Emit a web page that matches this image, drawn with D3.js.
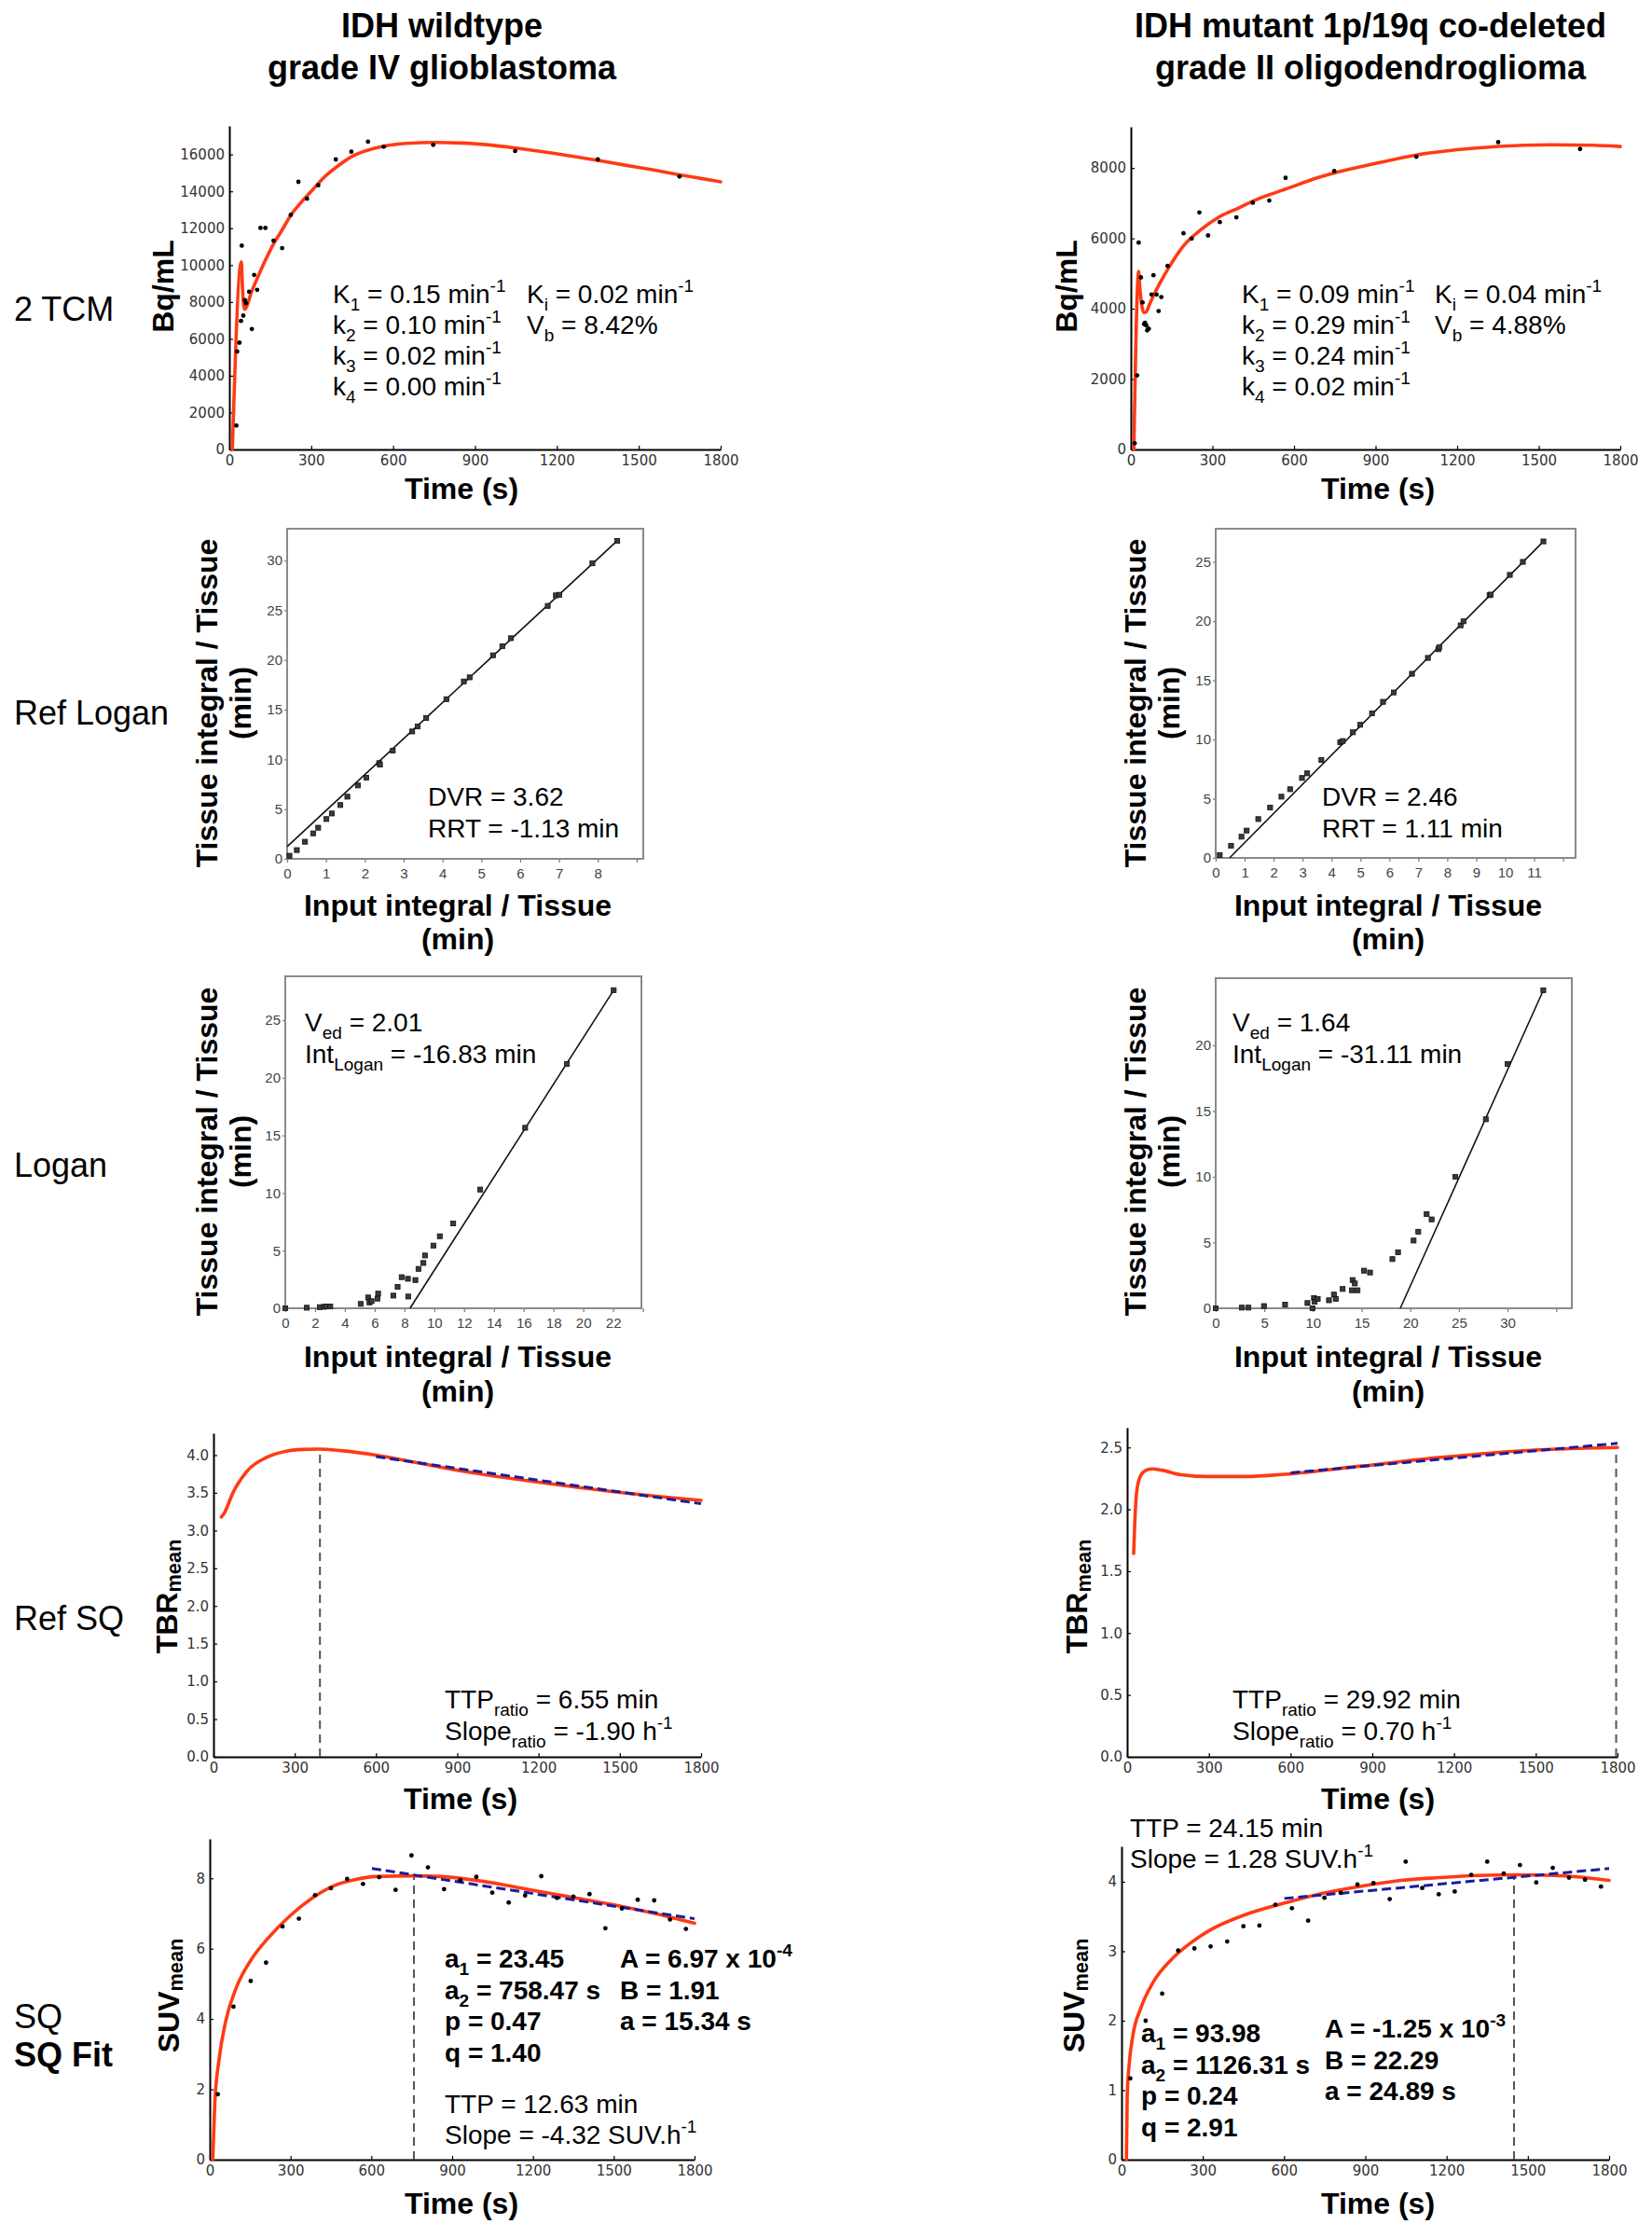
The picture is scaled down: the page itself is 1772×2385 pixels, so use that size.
<!DOCTYPE html>
<html>
<head>
<meta charset="utf-8">
<script src="https://cdn.jsdelivr.net/npm/d3@7"></script>
<style>
  body { margin: 0; background: #fff; }
  svg text { font-family: "Liberation Sans", Arial, sans-serif; }
  .ax text { font-family: "DejaVu Sans", sans-serif; font-size: 15px; fill: #333; }
  .bx text { font-family: "Liberation Sans", Arial, sans-serif; font-size: 15px; fill: #444; }
</style>
</head>
<body>
<div id="fig"></div>
<script>
// ---- data ----
const timeTicks = [0, 300, 600, 900, 1200, 1500, 1800];

// 2TCM, wildtype: measured points [t (s), Bq/mL] and fitted curve
const tcmWtPoints = [[25.6,1300],[28.5,5316],[37,5790],[42.7,6970],[45.5,11055],[51,7257],[57,8100],[61,7932],
  [72.6,8557],[82.5,6532],[91,9468],[102,8658],[114,12017],[132,12017],[162,11325],[193.5,10920],[225,12726],
  [253,14515],[284.6,13603],[325.8,14329],[390,15730],[447,16152],[508,16692],[566,16422],[747,16523],
  [1047,16186],[1350,15730],[1649,14802]];
const tcmWtFit = [[11,0],[44,10180],[48,8800],[52,7900],[56,7600],[62,7700],[80,8500],[100,9200],[130,10200],
  [160,11100],[193,11900],[225,12700],[260,13350],[300,14000],[350,14800],[400,15400],[450,15900],[500,16200],
  [566,16450],[650,16600],[750,16650],[850,16620],[950,16520],[1050,16350],[1150,16150],[1250,15920],
  [1350,15680],[1450,15420],[1550,15170],[1650,14900],[1800,14520]];
const tcmWtYTicks = [0,2000,4000,6000,8000,10000,12000,14000,16000];

// 2TCM, mutant
const tcmMutPoints = [[14,177],[23,2104],[28.7,5880],[37,4890],[43,4180],[48.7,3563],[52,3600],[57,3519],[60,3386],
  [66,3430],[76,4403],[83,4951],[94.6,4403],[102,3935],[112,4332],[135,5217],[193.5,6145],[223.6,5995],[252,6737],
  [284,6083],[327,6463],[388,6596],[448.6,7011],[509,7073],[569,7719],[748,7914],[1050,8321],[1351,8736],[1652,8541]];
const tcmMutFit = [[11,0],[28.7,5060],[33,4600],[40,4100],[47,3890],[55,3900],[70,4150],[90,4480],[112,4800],
  [135,5110],[160,5420],[193,5780],[255,6230],[327,6620],[398,6870],[449,7060],[509,7240],[569,7400],[685,7720],
  [748,7860],[900,8130],[1050,8370],[1258,8560],[1351,8615],[1545,8660],[1700,8645],[1800,8610]];
const tcmMutYTicks = [0,2000,4000,6000,8000];

// Reference Logan plots [input integral / tissue, tissue integral / tissue]
const refLoganWtPoints = [[0.06,0.31],[0.25,0.88],[0.46,1.72],[0.67,2.56],[0.80,3.13],[1.01,4.0],[1.15,4.56],
  [1.37,5.41],[1.55,6.25],[1.82,7.38],[2.04,8.16],[2.37,9.63],[2.39,9.47],[2.72,10.88],[3.22,12.81],[3.36,13.31],
  [3.58,14.16],[4.1,16.06],[4.55,17.84],[4.7,18.25],[5.3,20.47],[5.54,21.38],[5.76,22.19],[6.71,25.44],
  [6.92,26.5],[7.01,26.56],[7.86,29.72],[8.5,31.97]];
const refLoganWtFit = [[0,1.23],[8.5,32.0]];
const refLoganWtXTicks = [0,1,2,3,4,5,6,7,8,9];
const refLoganWtYTicks = [0,5,10,15,20,25,30];

const refLoganMutPoints = [[0.14,0.24],[0.53,1.02],[0.89,1.79],[1.07,2.31],[1.47,3.28],[1.88,4.25],[2.27,5.17],
  [2.57,5.8],[2.98,6.75],[3.16,7.14],[3.65,8.27],[4.3,9.77],[4.39,9.87],[4.74,10.61],[4.99,11.24],[5.4,12.21],
  [5.78,13.18],[6.15,13.97],[6.78,15.55],[7.33,16.89],[7.69,17.62],[7.72,17.78],[8.46,19.64],[8.56,19.98],
  [9.46,22.19],[9.5,22.24],[10.16,23.9],[10.61,25.0],[11.32,26.73]];
const refLoganMutFit = [[0.48,0],[11.32,26.73]];
const refLoganMutXTicks = [0,1,2,3,4,5,6,7,8,9,10,11,12];
const refLoganMutYTicks = [0,5,10,15,20,25];

// Logan plots
const loganWtPoints = [[0,0],[1.44,0.05],[2.31,0.1],[2.6,0.13],[2.77,0.16],[3.02,0.16],[5.06,0.38],[5.56,0.94],
  [5.65,0.51],[5.79,0.62],[6.19,0.84],[6.23,1.27],[7.25,1.1],[7.54,1.86],[7.81,2.7],[8.23,2.56],[8.25,1.02],
  [8.73,2.45],[8.94,3.42],[9.27,3.93],[9.375,4.58],[9.94,5.44],[10.37,6.25],[11.27,7.36],[13.08,10.3],
  [16.1,15.66],[18.9,21.2],[22.04,27.6]];
const loganWtFit = [[8.37,0],[22.04,27.6]];
const loganWtXTicks = [0,2,4,6,8,10,12,14,16,18,20,22,24];
const loganWtYTicks = [0,5,10,15,20,25];

const loganMutPoints = [[0,0],[2.69,0.05],[3.36,0.05],[4.96,0.17],[7.13,0.28],[9.43,0.4],[9.95,0],[10.1,0.78],
  [10.17,0.5],[10.49,0.71],[11.64,0.61],[12.15,1.04],[12.34,0.71],[13.05,1.47],[14.0,1.37],[14.07,2.15],
  [14.3,1.89],[14.58,1.37],[15.25,2.86],[15.86,2.72],[18.16,3.74],[18.74,4.26],[20.34,5.15],[20.82,5.82],
  [21.68,7.16],[22.19,6.76],[24.62,10.0],[27.76,14.37],[30.0,18.58],[33.67,24.18]];
const loganMutFit = [[18.97,0],[33.67,24.18]];
const loganMutXTicks = [0,5,10,15,20,25,30,35];
const loganMutYTicks = [0,5,10,15,20];

// Reference SQ: TBR curves, late slope fit and time-to-peak marker
const refSqWtCurve = [[29,3.18],[38,3.22],[73,3.51],[127,3.8],[196,3.97],[265,4.05],[330,4.075],[388,4.08],
  [470,4.06],[600,4.0],[750,3.9],[900,3.8],[1050,3.715],[1200,3.64],[1350,3.57],[1500,3.505],[1650,3.45],[1800,3.40]];
const refSqWtSlope = [[600,3.98],[1800,3.355]];
const refSqWtTtp = [[393,0],[393,4.08]];
const refSqWtYTicks = [0,0.5,1,1.5,2,2.5,3,3.5,4];

const refSqMutCurve = [[24,1.644],[28,1.886],[35,2.14],[49,2.27],[70,2.316],[92,2.326],[127,2.316],[197,2.28],
  [296,2.265],[437,2.265],[578,2.283],[860,2.35],[1143,2.418],[1425,2.47],[1800,2.5]];
const refSqMutSlope = [[600,2.295],[1800,2.533]];
const refSqMutTtp = [[1795,0],[1795,2.5]];
const refSqMutYTicks = [0,0.5,1,1.5,2,2.5];

// SQ fit: SUV points, fitted curve, late slope and time-to-peak
const sqWtPoints = [[30,1.86],[88,4.35],[152,5.08],[209,5.6],[270,6.63],[331,6.85],[391,7.52],[450,7.72],
  [510,7.98],[569,7.84],[629,8.03],[690,7.67],[749,8.65],[810,8.31],[870,7.69],[930,7.95],[990,8.04],
  [1049,7.59],[1110,7.31],[1171,7.51],[1231,8.06],[1289,7.44],[1350,7.48],[1410,7.55],[1469,6.58],
  [1530,7.14],[1589,7.39],[1650,7.37],[1709,6.83],[1768,6.56]];
const sqWtCurve = [[11,0],[19,1.64],[35,2.87],[59,3.93],[99,4.9],[155,5.7],[219,6.32],[299,6.94],[379,7.43],
  [458,7.78],[538,7.96],[618,8.05],[757,8.07],[858,8.05],[1017,7.91],[1177,7.69],[1337,7.47],[1497,7.25],
  [1656,6.99],[1800,6.72]];
const sqWtSlope = [[602,8.28],[1800,6.85]];
const sqWtTtp = [[758,0],[758,8.07]];
const sqWtYTicks = [0,2,4,6,8];

const sqMutPoints = [[32.5,1.17],[89,2.0],[150,2.39],[209,3.01],[269,3.04],[329,3.07],[390,3.14],[450,3.36],
  [509,3.37],[568,3.67],[629,3.62],[689,3.44],[749,3.77],[809,3.84],[871,3.96],[930,3.98],[990,3.75],
  [1049,4.29],[1110,3.91],[1171,3.82],[1230,3.86],[1291,4.1],[1350,4.29],[1411,4.12],[1471,4.24],
  [1531,3.99],[1592,4.2],[1652,4.06],[1711,4.03],[1770,3.93]];
const sqMutCurve = [[18,0],[21,0.92],[28,1.36],[42,1.79],[71,2.18],[113,2.53],[184,2.88],[255,3.12],[325,3.3],
  [467,3.54],[608,3.7],[749,3.84],[891,3.94],[1032,4.02],[1174,4.06],[1315,4.09],[1456,4.1],[1598,4.09],
  [1683,4.07],[1800,4.02]];
const sqMutSlope = [[601,3.76],[1800,4.19]];
const sqMutTtp = [[1449,0],[1449,4.1]];
const sqMutYTicks = [0,1,2,3,4];

// ---- drawing ----
const W = 1772, H = 2385;
const RED = "#ff3a14", BLUE = "#1c1c9c";

const svg = d3.select("#fig").append("svg")
  .attr("width", W).attr("height", H)
  .attr("viewBox", `0 0 ${W} ${H}`);

// text with _{sub} and ^{sup} parts
function rich(sel, str, fs, subShift) {
  const parts = str.split(/(_\{[^}]*\}|\^\{[^}]*\})/).filter((s) => s.length);
  let off = 0;
  parts.forEach((p) => {
    let target = 0, txt = p, small = false;
    if (p.startsWith("_{")) { target = subShift * fs; txt = p.slice(2, -1); small = true; }
    else if (p.startsWith("^{")) { target = -0.42 * fs; txt = p.slice(2, -1); small = true; }
    sel.append("tspan")
      .attr("dy", target - off)
      .attr("font-size", small ? fs * 0.68 : fs)
      .text(txt);
    off = target;
  });
}

function addText(x, y, str, fs, weight, anchor, rotate) {
  const t = svg.append("text")
    .attr("font-size", fs)
    .attr("font-weight", weight || "normal")
    .attr("text-anchor", anchor || "start")
    .attr("fill", "#000");
  if (rotate) t.attr("transform", `translate(${x},${y}) rotate(-90)`);
  else t.attr("x", x).attr("y", y);
  rich(t, str, fs, rotate ? 0.12 : 0.3);
  return t;
}

const line = (x, y) => d3.line().x((d) => x(d[0])).y((d) => y(d[1]));

// matplotlib-like time panel: left and bottom spines, inward ticks
function timePanel(p) {
  const x = d3.scaleLinear().domain([0, 1800]).range([p.left, p.right]);
  const y = d3.scaleLinear().domain([0, p.yMax]).range([p.bottom, p.top]);
  const g = svg.append("g");

  g.append("g").attr("class", "ax")
    .attr("transform", `translate(0,${p.bottom})`)
    .call(d3.axisBottom(x).tickValues(timeTicks).tickFormat(d3.format("d"))
      .tickSize(-4).tickSizeOuter(0).tickPadding(6));
  g.append("g").attr("class", "ax")
    .attr("transform", `translate(${p.left},0)`)
    .call(d3.axisLeft(y).tickValues(p.yTicks).tickFormat(p.fmt).tickSize(-4).tickSizeOuter(0).tickPadding(5));
  g.selectAll(".ax .domain").attr("stroke", "#000").attr("stroke-width", 2);
  g.selectAll(".ax .tick line").attr("stroke", "#000").attr("stroke-width", 1.2);
  return { x, y, g };
}

// R-like boxed panel: grey frame, outward ticks
function boxPanel(p) {
  const x = d3.scaleLinear().domain([0, p.xMax]).range([p.left, p.right]);
  const y = d3.scaleLinear().domain([0, p.yMax]).range([p.bottom, p.top]);
  const g = svg.append("g");

  g.append("g").attr("class", "bx")
    .attr("transform", `translate(0,${p.bottom})`)
    .call(d3.axisBottom(x).tickValues(p.xTicks)
      .tickFormat((d) => (d === p.xTicks[p.xTicks.length - 1] ? "" : d))
      .tickSize(4).tickSizeOuter(0).tickPadding(6));
  g.append("g").attr("class", "bx")
    .attr("transform", `translate(${p.left},0)`)
    .call(d3.axisLeft(y).tickValues(p.yTicks).tickSize(3).tickSizeOuter(0).tickPadding(2));
  g.selectAll(".bx .domain").remove();
  g.selectAll(".bx .tick line").attr("stroke", "#777").attr("stroke-width", 1.2);

  g.append("rect")
    .attr("x", p.left).attr("y", p.top)
    .attr("width", p.right - p.left).attr("height", p.bottom - p.top)
    .attr("fill", "none").attr("stroke", "#8a8a8a").attr("stroke-width", 2);

  g.append("path").datum(p.fit)
    .attr("d", line(x, y))
    .attr("fill", "none").attr("stroke", "#111").attr("stroke-width", 1.6);

  g.selectAll("rect.pt").data(p.points).join("rect")
    .attr("class", "pt")
    .attr("x", (d) => x(d[0]) - 2.6).attr("y", (d) => y(d[1]) - 2.6)
    .attr("width", 5.2).attr("height", 5.2)
    .attr("fill", "#3a3a3a").attr("stroke", "#111").attr("stroke-width", 0.8);
  return { x, y, g };
}

function dots(panel, data) {
  panel.g.selectAll("circle.pt").data(data).join("circle")
    .attr("class", "pt")
    .attr("cx", (d) => panel.x(d[0])).attr("cy", (d) => panel.y(d[1]))
    .attr("r", 2.4).attr("fill", "#000");
}

function curve(panel, data) {
  panel.g.append("path").datum(data)
    .attr("d", line(panel.x, panel.y).curve(d3.curveMonotoneX))
    .attr("fill", "none").attr("stroke", RED).attr("stroke-width", 3.6)
    .attr("stroke-linejoin", "round").attr("stroke-linecap", "round");
}

function dashed(panel, data, color, width, dash) {
  panel.g.append("path").datum(data)
    .attr("d", line(panel.x, panel.y))
    .attr("fill", "none").attr("stroke", color)
    .attr("stroke-width", width).attr("stroke-dasharray", dash);
}

// ---- column titles ----
addText(474, 40, "IDH wildtype", 36, "bold", "middle");
addText(474, 85, "grade IV glioblastoma", 36, "bold", "middle");
addText(1470, 40, "IDH mutant 1p/19q co-deleted", 36, "bold", "middle");
addText(1470, 85, "grade II oligodendroglioma", 36, "bold", "middle");

// ---- row labels ----
addText(15, 344, "2 TCM", 36);
addText(15, 777, "Ref Logan", 36);
addText(15, 1262, "Logan", 36);
addText(15, 1748, "Ref SQ", 36);
addText(15, 2175, "SQ", 36);
addText(15, 2216, "SQ Fit", 36, "bold");

// ---- row 1: 2TCM ----
const p1 = timePanel({ left: 246, right: 773, top: 135, bottom: 482, yMax: 17550, yTicks: tcmWtYTicks, fmt: d3.format("d") });
curve(p1, tcmWtFit);
dots(p1, tcmWtPoints);
addText(186, 307, "Bq/mL", 32, "bold", "middle", true);
addText(495, 535, "Time (s)", 32, "bold", "middle");
[["K_{1} = 0.15 min^{-1}", "K_{i} = 0.02 min^{-1}"], ["k_{2} = 0.10 min^{-1}", "V_{b} = 8.42%"],
 ["k_{3} = 0.02 min^{-1}", ""], ["k_{4} = 0.00 min^{-1}", ""]].forEach((r, i) => {
  addText(357, 325 + i * 33, r[0], 28);
  if (r[1]) addText(565, 325 + i * 33, r[1], 28);
});

const p2 = timePanel({ left: 1213, right: 1738, top: 136, bottom: 482, yMax: 9170, yTicks: tcmMutYTicks, fmt: d3.format("d") });
curve(p2, tcmMutFit);
dots(p2, tcmMutPoints);
addText(1155, 307, "Bq/mL", 32, "bold", "middle", true);
addText(1478, 535, "Time (s)", 32, "bold", "middle");
[["K_{1} = 0.09 min^{-1}", "K_{i} = 0.04 min^{-1}"], ["k_{2} = 0.29 min^{-1}", "V_{b} = 4.88%"],
 ["k_{3} = 0.24 min^{-1}", ""], ["k_{4} = 0.02 min^{-1}", ""]].forEach((r, i) => {
  addText(1332, 325 + i * 33, r[0], 28);
  if (r[1]) addText(1539, 325 + i * 33, r[1], 28);
});

// ---- row 2: reference Logan ----
boxPanel({ left: 308, right: 690, top: 567, bottom: 921, xMax: 9.17, yMax: 33.2,
  xTicks: refLoganWtXTicks, yTicks: refLoganWtYTicks, points: refLoganWtPoints, fit: refLoganWtFit });
addText(233, 754, "Tissue integral / Tissue", 32, "bold", "middle", true);
addText(269, 754, "(min)", 32, "bold", "middle", true);
addText(491, 982, "Input integral / Tissue", 32, "bold", "middle");
addText(491, 1018, "(min)", 32, "bold", "middle");
addText(459, 864, "DVR = 3.62", 28);
addText(459, 898, "RRT = -1.13 min", 28);

boxPanel({ left: 1304, right: 1690, top: 567, bottom: 920, xMax: 12.43, yMax: 27.8,
  xTicks: refLoganMutXTicks, yTicks: refLoganMutYTicks, points: refLoganMutPoints, fit: refLoganMutFit });
addText(1229, 754, "Tissue integral / Tissue", 32, "bold", "middle", true);
addText(1265, 754, "(min)", 32, "bold", "middle", true);
addText(1489, 982, "Input integral / Tissue", 32, "bold", "middle");
addText(1489, 1018, "(min)", 32, "bold", "middle");
addText(1418, 864, "DVR = 2.46", 28);
addText(1418, 898, "RRT = 1.11 min", 28);

// ---- row 3: Logan ----
boxPanel({ left: 306, right: 688, top: 1047, bottom: 1403, xMax: 23.9, yMax: 28.8,
  xTicks: loganWtXTicks, yTicks: loganWtYTicks, points: loganWtPoints, fit: loganWtFit });
addText(233, 1235, "Tissue integral / Tissue", 32, "bold", "middle", true);
addText(269, 1235, "(min)", 32, "bold", "middle", true);
addText(491, 1466, "Input integral / Tissue", 32, "bold", "middle");
addText(491, 1503, "(min)", 32, "bold", "middle");
addText(327, 1106, "V_{ed} = 2.01", 28);
addText(327, 1140, "Int_{Logan} = -16.83 min", 28);

boxPanel({ left: 1304, right: 1686, top: 1049, bottom: 1403, xMax: 36.6, yMax: 25.1,
  xTicks: loganMutXTicks, yTicks: loganMutYTicks, points: loganMutPoints, fit: loganMutFit });
addText(1229, 1235, "Tissue integral / Tissue", 32, "bold", "middle", true);
addText(1265, 1235, "(min)", 32, "bold", "middle", true);
addText(1489, 1466, "Input integral / Tissue", 32, "bold", "middle");
addText(1489, 1503, "(min)", 32, "bold", "middle");
addText(1322, 1106, "V_{ed} = 1.64", 28);
addText(1322, 1140, "Int_{Logan} = -31.11 min", 28);

// ---- row 4: reference SQ ----
const p7 = timePanel({ left: 229, right: 752, top: 1537, bottom: 1884, yMax: 4.29, yTicks: refSqWtYTicks, fmt: d3.format(".1f") });
dashed(p7, refSqWtTtp, "#555", 2, "9,6");
curve(p7, refSqWtCurve);
dashed(p7, refSqWtSlope, BLUE, 3, "10,5");
addText(190, 1712, "TBR_{mean}", 32, "bold", "middle", true);
addText(494, 1940, "Time (s)", 32, "bold", "middle");
addText(477, 1832, "TTP_{ratio} = 6.55 min", 28);
addText(477, 1866, "Slope_{ratio} = -1.90 h^{-1}", 28);

const p8 = timePanel({ left: 1209, right: 1735, top: 1531, bottom: 1884, yMax: 2.66, yTicks: refSqMutYTicks, fmt: d3.format(".1f") });
dashed(p8, refSqMutTtp, "#555", 2, "9,6");
curve(p8, refSqMutCurve);
dashed(p8, refSqMutSlope, BLUE, 3, "10,5");
addText(1166, 1712, "TBR_{mean}", 32, "bold", "middle", true);
addText(1478, 1940, "Time (s)", 32, "bold", "middle");
addText(1322, 1832, "TTP_{ratio} = 29.92 min", 28);
addText(1322, 1866, "Slope_{ratio} = 0.70 h^{-1}", 28);

// ---- row 5: SQ fit ----
const p9 = timePanel({ left: 225, right: 745, top: 1972, bottom: 2316, yMax: 9.12, yTicks: sqWtYTicks, fmt: d3.format("d") });
dashed(p9, sqWtTtp, "#555", 2, "9,6");
curve(p9, sqWtCurve);
dashed(p9, sqWtSlope, BLUE, 3, "10,5");
dots(p9, sqWtPoints);
addText(192, 2140, "SUV_{mean}", 32, "bold", "middle", true);
addText(495, 2374, "Time (s)", 32, "bold", "middle");
["a_{1} = 23.45", "a_{2} = 758.47 s", "p = 0.47", "q = 1.40"].forEach((s, i) => addText(477, 2110 + i * 33.5, s, 28, "bold"));
["A = 6.97 x 10^{-4}", "B = 1.91", "a = 15.34 s"].forEach((s, i) => addText(665, 2110 + i * 33.5, s, 28, "bold"));
addText(477, 2266, "TTP = 12.63 min", 28);
addText(477, 2299, "Slope = -4.32 SUV.h^{-1}", 28);

const p10 = timePanel({ left: 1203, right: 1726, top: 1980, bottom: 2316, yMax: 4.51, yTicks: sqMutYTicks, fmt: d3.format("d") });
dashed(p10, sqMutTtp, "#555", 2, "9,6");
curve(p10, sqMutCurve);
dashed(p10, sqMutSlope, BLUE, 3, "10,5");
dots(p10, sqMutPoints);
addText(1163, 2140, "SUV_{mean}", 32, "bold", "middle", true);
addText(1478, 2374, "Time (s)", 32, "bold", "middle");
addText(1212, 1970, "TTP = 24.15 min", 28);
addText(1212, 2003, "Slope = 1.28 SUV.h^{-1}", 28);
["a_{1} = 93.98", "a_{2} = 1126.31 s", "p = 0.24", "q = 2.91"].forEach((s, i) => addText(1224, 2190 + i * 33.7, s, 28, "bold"));
["A = -1.25 x 10^{-3}", "B = 22.29", "a = 24.89 s"].forEach((s, i) => addText(1421, 2185 + i * 33.5, s, 28, "bold"));
</script>
</body>
</html>
